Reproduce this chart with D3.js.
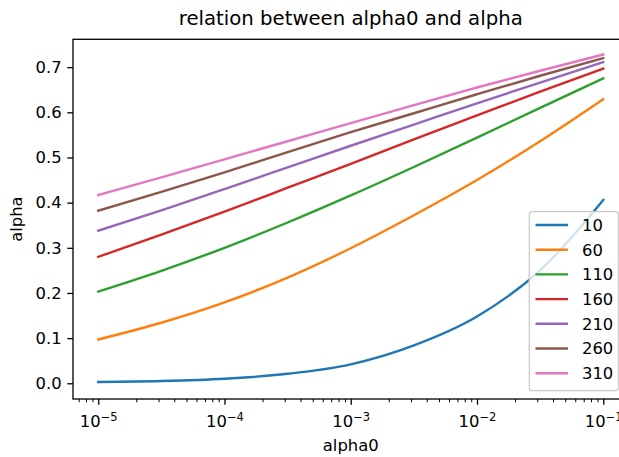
<!DOCTYPE html>
<html>
<head>
<meta charset="utf-8">
<script src="https://cdn.jsdelivr.net/npm/d3@7"></script>
<style>
  body { margin: 0; background: #fff; }
  svg { display: block; }
  text { font-family: "DejaVu Sans", sans-serif; fill: #000; }
</style>
</head>
<body>
<svg id="chart" width="619" height="457"></svg>
<script>
// alpha0 sample points (half-decade steps)
const alpha0 = [1e-5, 3.162e-5, 1e-4, 3.162e-4, 1e-3, 3.162e-3, 1e-2, 3.162e-2, 1e-1];

// alpha for each n
const seriesNames = ["10", "60", "110", "160", "210", "260", "310"];
const alphaN10  = [0.003, 0.005, 0.010, 0.021, 0.042, 0.084, 0.148, 0.250, 0.406];
const alphaN60  = [0.097, 0.134, 0.179, 0.234, 0.299, 0.372, 0.450, 0.536, 0.629];
const alphaN110 = [0.203, 0.249, 0.300, 0.356, 0.416, 0.479, 0.544, 0.610, 0.675];
const alphaN160 = [0.280, 0.329, 0.380, 0.433, 0.486, 0.540, 0.593, 0.646, 0.697];
const alphaN210 = [0.338, 0.383, 0.430, 0.478, 0.526, 0.573, 0.620, 0.666, 0.711];
const alphaN260 = [0.382, 0.424, 0.467, 0.512, 0.556, 0.598, 0.640, 0.681, 0.720];
const alphaN310 = [0.417, 0.456, 0.496, 0.536, 0.576, 0.616, 0.655, 0.692, 0.728];
const seriesValues = [alphaN10, alphaN60, alphaN110, alphaN160, alphaN210, alphaN260, alphaN310];

// axis ticks
const xTickValues = [1e-5, 1e-4, 1e-3, 1e-2, 1e-1];
const xTickExponents = ["\u22125", "\u22124", "\u22123", "\u22122", "\u22121"];
const yTickValues = [0.0, 0.1, 0.2, 0.3, 0.4, 0.5, 0.6, 0.7];

const titleText = "relation between alpha0 and alpha";
const xLabelText = "alpha0";
const yLabelText = "alpha";

const palette = ["#1f77b4", "#ff7f0e", "#2ca02c", "#d62728", "#9467bd", "#8c564b", "#e377c2"];

// plot frame
const plotL = 73, plotR = 628.5, plotT = 39.3, plotB = 399;
const fs = 16.4;

const svg = d3.select("#chart");

const x = d3.scaleLog().domain([Math.pow(10, -5.2), Math.pow(10, -0.8)]).range([plotL, plotR]);
const y = d3.scaleLinear().domain([-0.0348, 0.7617]).range([plotB, plotT]);

// minor ticks of the log axis inside the domain
const minorTicks = [];
for (let e = -6; e <= -1; e++) {
  for (let m = 2; m <= 9; m++) {
    const v = m * Math.pow(10, e);
    if (v >= x.domain()[0] && v <= x.domain()[1]) minorTicks.push(v);
  }
}

// curves
const line = d3.line()
  .x(d => x(d[0]))
  .y(d => y(d[1]))
  .curve(d3.curveMonotoneX);

svg.append("g").selectAll("path")
  .data(seriesValues)
  .join("path")
  .attr("d", vals => line(vals.map((v, i) => [alpha0[i], v])))
  .attr("fill", "none")
  .attr("stroke", (d, i) => palette[i])
  .attr("stroke-width", 2.4)
  .attr("stroke-linecap", "square");

// x axis: major ticks with power-of-ten labels
const xAxis = svg.append("g")
  .attr("transform", `translate(0,${plotB})`)
  .call(d3.axisBottom(x).tickValues(xTickValues).tickSize(5.7).tickPadding(5.7).tickFormat(() => ""));
xAxis.select(".domain").remove();
xAxis.selectAll("line").attr("stroke", "#000").attr("stroke-width", 1.3);
xAxis.selectAll("text")
  .attr("font-size", fs)
  .attr("dy", null)
  .attr("y", 28)
  .each(function (d, i) {
    const t = d3.select(this);
    t.append("tspan").text("10");
    t.append("tspan").attr("font-size", fs * 0.7).attr("dy", -6.5).text(xTickExponents[i]);
  });

const xMinor = svg.append("g")
  .attr("transform", `translate(0,${plotB})`)
  .call(d3.axisBottom(x).tickValues(minorTicks).tickSize(3.3).tickFormat(() => ""));
xMinor.select(".domain").remove();
xMinor.selectAll("line").attr("stroke", "#000").attr("stroke-width", 1);

// y axis
const yAxis = svg.append("g")
  .attr("transform", `translate(${plotL},0)`)
  .call(d3.axisLeft(y).tickValues(yTickValues).tickSize(5.7).tickPadding(5.7).tickFormat(d3.format(".1f")));
yAxis.select(".domain").remove();
yAxis.selectAll("line").attr("stroke", "#000").attr("stroke-width", 1.3);
yAxis.selectAll("text").attr("font-size", fs).attr("fill", "#000");

// frame
svg.append("rect")
  .attr("x", plotL).attr("y", plotT)
  .attr("width", plotR - plotL).attr("height", plotB - plotT)
  .attr("fill", "none").attr("stroke", "#000").attr("stroke-width", 1.3);

// title and axis labels
svg.append("text")
  .attr("x", (plotL + plotR) / 2).attr("y", 25)
  .attr("text-anchor", "middle").attr("font-size", 19.7)
  .text(titleText);

svg.append("text")
  .attr("x", (plotL + plotR) / 2).attr("y", 451)
  .attr("text-anchor", "middle").attr("font-size", fs)
  .text(xLabelText);

svg.append("text")
  .attr("transform", `translate(22,${(plotT + plotB) / 2}) rotate(-90)`)
  .attr("text-anchor", "middle").attr("font-size", fs)
  .text(yLabelText);

// legend
const legL = 529.3, legT = 211.7, legR = 618.5, legB = 390.7;
const legend = svg.append("g");
legend.append("rect")
  .attr("x", legL).attr("y", legT)
  .attr("width", legR - legL).attr("height", legB - legT)
  .attr("rx", 3).attr("ry", 3)
  .attr("fill", "#fff").attr("fill-opacity", 0.8)
  .attr("stroke", "#cccccc").attr("stroke-width", 1.3);

const rowY = i => 225 + i * 24.7;
const items = legend.selectAll("g.item")
  .data(seriesNames)
  .join("g")
  .attr("class", "item");
items.append("line")
  .attr("x1", 535.5).attr("x2", 568)
  .attr("y1", (d, i) => rowY(i)).attr("y2", (d, i) => rowY(i))
  .attr("stroke", (d, i) => palette[i])
  .attr("stroke-width", 2.4);
items.append("text")
  .attr("x", 582)
  .attr("y", (d, i) => rowY(i))
  .attr("dy", "0.36em")
  .attr("font-size", fs)
  .text(d => d);
</script>
</body>
</html>
